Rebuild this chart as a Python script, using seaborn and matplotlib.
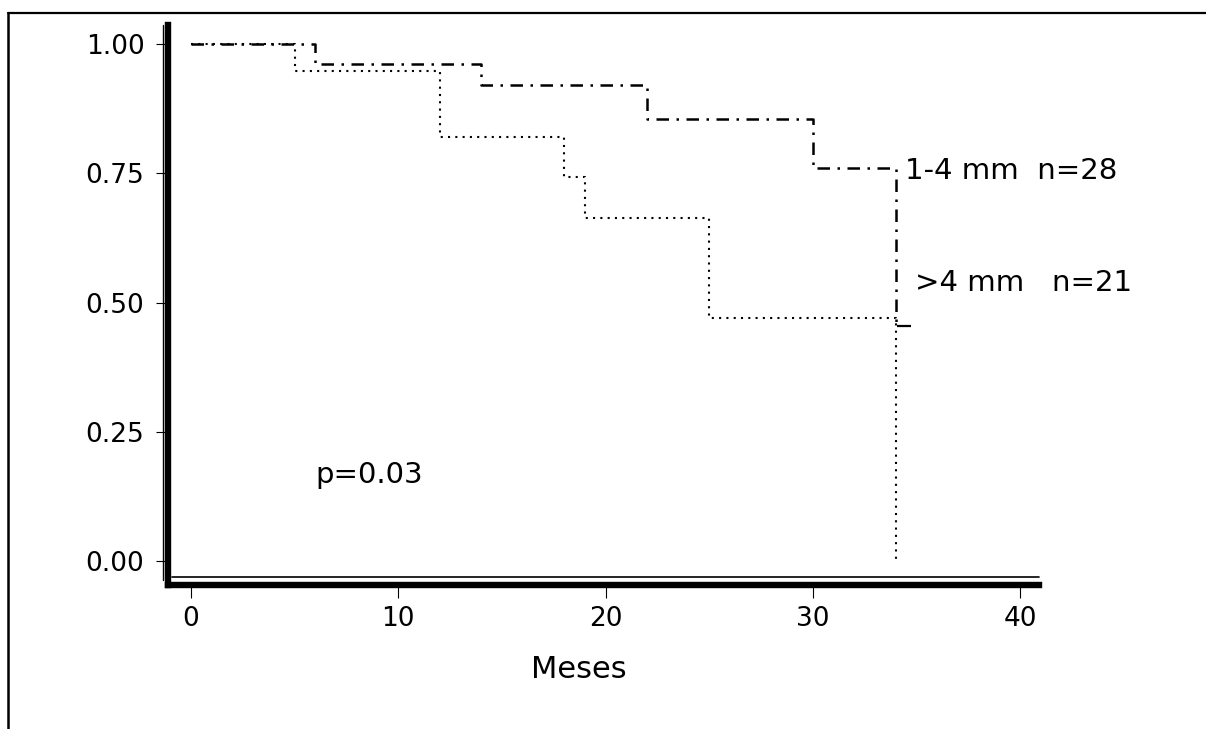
import pandas as pd
import seaborn as sns
import matplotlib.pyplot as plt
from matplotlib.lines import Line2D

# Kaplan-Meier steps
meses_a = [0, 6, 14, 22, 30, 34]          # 1-4 mm
surv_a = [1.0, 0.961, 0.921, 0.855, 0.760, 0.455]
meses_b = [0, 5, 12, 18, 19, 25, 34]      # >4 mm
surv_b = [1.0, 0.948, 0.820, 0.743, 0.663, 0.470, 0.0]
cens_x = [34.4]
cens_y = [0.455]

xticks = [0, 10, 20, 30, 40]
yticks = [0.00, 0.25, 0.50, 0.75, 1.00]
ytick_labels = ["0.00", "0.25", "0.50", "0.75", "1.00"]

df_a = pd.DataFrame({"Meses": meses_a, "S": surv_a})
df_b = pd.DataFrame({"Meses": meses_b, "S": surv_b})

sns.set_style("white")
plt.rcParams['font.family'] = ['DejaVu Sans']
plt.rcParams['text.color'] = 'black'
plt.rcParams['xtick.color'] = 'black'
plt.rcParams['ytick.color'] = 'black'

W, H = 1206, 729
fig = plt.figure(figsize=(W / 100, H / 100), dpi=100)
ax = fig.add_axes([168 / W, 1 - 585 / H, (1039 - 168) / W, (585 - 25) / H])

sns.lineplot(data=df_a, x="Meses", y="S", ax=ax, estimator=None, sort=False,
             drawstyle="steps-post", color="black", lw=1.8,
             dashes=False, linestyle=(0, (5, 3, 1, 3)))
sns.lineplot(data=df_b, x="Meses", y="S", ax=ax, estimator=None, sort=False,
             drawstyle="steps-post", color="black", lw=1.5,
             dashes=False, linestyle=(0, (1, 2.5)))
ax.plot(cens_x, cens_y, marker="_", ms=10, mew=1.6, color="black", ls="none")

ax.set_xlim(-1.11, 40.9)
ax.set_ylim(-0.046, 1.037)
ax.set_xticks(xticks)
ax.set_yticks(yticks)
ax.set_yticklabels(ytick_labels)
ax.tick_params(axis="both", labelsize=19, length=9, width=0.8, colors="black",
               direction="out", bottom=True, left=True)
ax.tick_params(axis="y", pad=8)
ax.tick_params(axis="x", pad=6)

for s in ["top", "right"]:
    ax.spines[s].set_visible(False)
for s in ["left", "bottom"]:
    ax.spines[s].set_linewidth(4.6)
    ax.spines[s].set_color("black")

ax.set_xlabel("")
ax.set_ylabel("")
fig.text(579 / W, 1 - 669 / H, "Meses", fontsize=22, ha="center", va="center")

ax.text(34.45, 0.754, "1-4 mm  n=28", fontsize=21, va="center", ha="left")
ax.text(34.9, 0.538, ">4 mm   n=21", fontsize=21, va="center", ha="left")
ax.text(5.98, 0.166, "p=0.03", fontsize=21, va="center", ha="left")


def px_line(x0, y0, x1, y1, lw):
    fig.add_artist(Line2D([x0 / W, x1 / W], [1 - y0 / H, 1 - y1 / H],
                          transform=fig.transFigure, color="black", lw=lw))


# double rules next to the thick axes
px_line(163, 25, 163, 580, 1.0)
px_line(172, 577, 1039, 577, 1.2)
# outer frame
px_line(8, 13, W, 13, 1.6)
px_line(8, 13, 8, H, 1.8)

fig.savefig("out.png", dpi=100, facecolor="white")
